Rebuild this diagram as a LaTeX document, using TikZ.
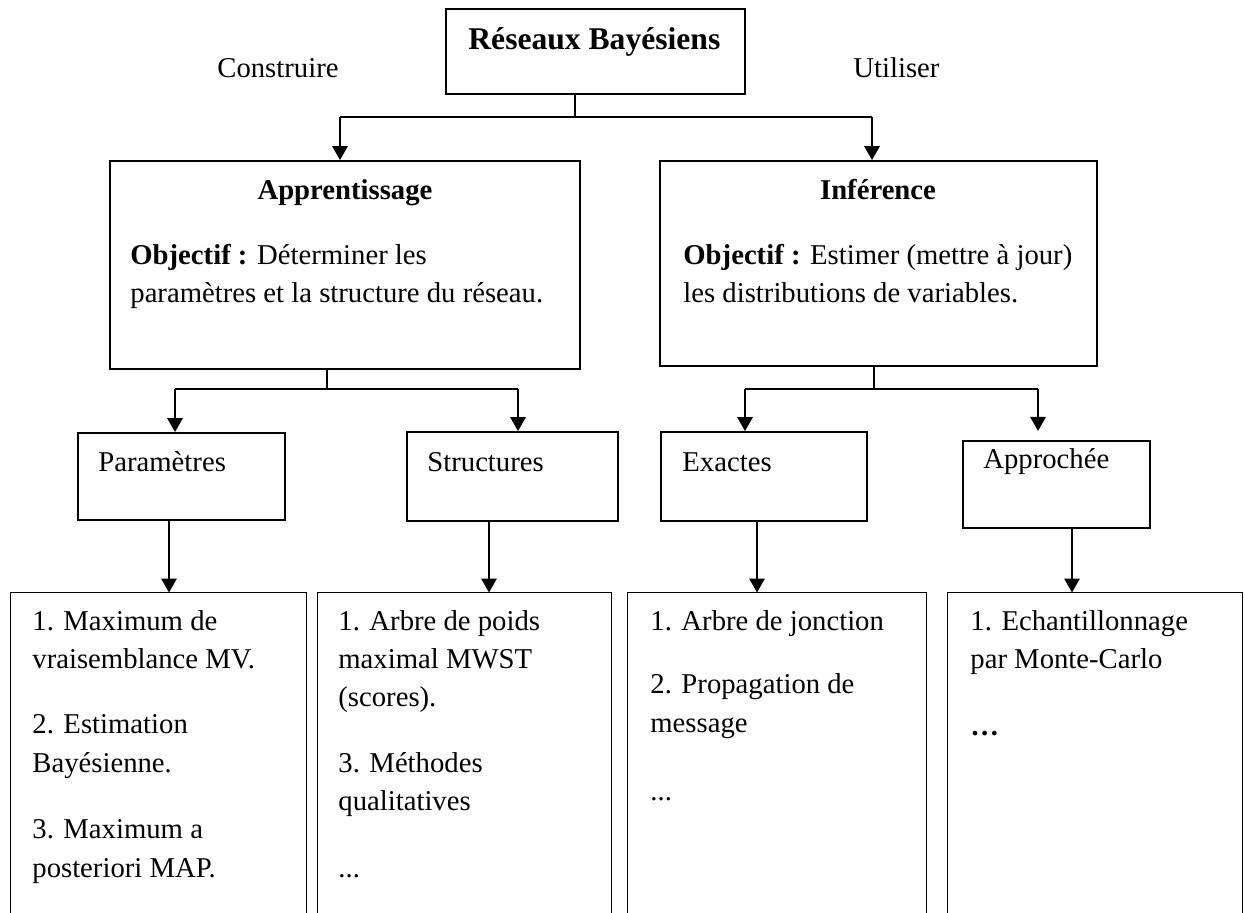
\documentclass[tikz,border=0pt]{standalone}
\usepackage{fontspec}
\setmainfont{Liberation Serif}
\usetikzlibrary{arrows.meta,fit}
\begin{document}
\begin{tikzpicture}[x=0.5pt,y=-0.5pt,
  box/.style={draw,line width=0.85pt,inner sep=0pt},
  area/.style={inner sep=0pt},
  rim/.style={line width=0.85pt},
  link/.style={line width=0.7pt},
  arr/.style={line width=1.4pt,-{Triangle[width=7.5pt,length=7pt]}},
  txt/.style={anchor=base west,inner sep=0pt,font=\fontsize{14.35pt}{19pt}\selectfont},
  head/.style={anchor=base,inner sep=0pt,font=\fontsize{14.35pt}{19pt}\selectfont\bfseries},
]
\useasboundingbox (0,0) rectangle (1245,913);

% ---- boxes ----
\node[box,fit={(446,9) (745,94)}] (top) {};
\node[box,fit={(110,161) (580,369)}] (app) {};
\node[box,fit={(660,161) (1097,366)}] (inf) {};
\node[box,fit={(78,433) (285,520)}] (par) {};
\node[box,fit={(407,432) (618,521)}] (str) {};
\node[box,fit={(661,432) (867,521)}] (exa) {};
\node[box,fit={(963,441) (1150,528)}] (apr) {};

% bottom lists: open at the foot
\node[area,fit={(11,593) (306,913)}] (b1) {};
\node[area,fit={(318,593) (611,913)}] (b2) {};
\node[area,fit={(628,593) (926,913)}] (b3) {};
\node[area,fit={(948,593) (1242,913)}] (b4) {};
\foreach \b in {b1,b2,b3,b4}
  \draw[rim] (\b.south west) |- (\b.north east) -- (\b.south east);

% ---- texts ----
\node[head,font=\fontsize{15.8pt}{19pt}\selectfont\bfseries,anchor=base west] (ttl) at (468,50) {Réseaux Bayésiens};
\node[txt] (lc) at (217,78) {Construire};
\node[txt] (lu) at (853,78) {Utiliser};

\node[head] (happ) at (345,200) {Apprentissage};
\node[txt] (app1) at (130,265) {\textbf{Objectif :} Déterminer les};
\node[txt] (app2) at (130,303) {paramètres et la structure du réseau.};

\node[head] (hinf) at (878,200) {Inférence};
\node[txt] (inf1) at (683,265) {\textbf{Objectif :} Estimer (mettre à jour)};
\node[txt] (inf2) at (683,303) {les distributions de variables.};

\node[txt] (tpar) at (98,472) {Paramètres};
\node[txt] (tstr) at (427,472) {Structures};
\node[txt] (texa) at (682,472) {Exactes};
\node[txt] (tapr) at (983,469) {Approchée};

\node[txt] (b1a) at (32,630) {1. Maximum de};
\node[txt] (b1b) at (32,668) {vraisemblance MV.};
\node[txt] (b1c) at (32,733) {2. Estimation};
\node[txt] (b1d) at (32,772) {Bayésienne.};
\node[txt] (b1e) at (32,838) {3. Maximum a};
\node[txt] (b1f) at (32,877) {posteriori MAP.};

\node[txt] (b2a) at (338,630) {1. Arbre de poids};
\node[txt] (b2b) at (338,668) {maximal MWST};
\node[txt] (b2c) at (338,706) {(scores).};
\node[txt] (b2d) at (338,772) {3. Méthodes};
\node[txt] (b2e) at (338,810) {qualitatives};
\node[txt] (b2f) at (338,877) {...};

\node[txt] (b3a) at (650,630) {1. Arbre de jonction};
\node[txt] (b3b) at (650,693) {2. Propagation de};
\node[txt] (b3c) at (650,732) {message};
\node[txt] (b3d) at (650,800) {...};

\node[txt] (b4a) at (970,630) {1. Echantillonnage};
\node[txt] (b4b) at (970,668) {par Monte-Carlo};
\node[txt] (b4c) at (970,735) {\textbf{…}};

% ---- connectors ----
% first level
\coordinate (j0) at (575,117);
\coordinate (ka) at (340,117);
\coordinate (kb) at (872,117);
\draw[link] (top.south -| j0) -- (j0);
\draw[link] (ka) -- (kb);
\draw[arr] (ka) -- (ka |- app.north);
\draw[arr] (kb) -- (kb |- inf.north);

% under Apprentissage
\coordinate (j1) at (327,389);
\coordinate (ka1) at (175,389);
\coordinate (ka2) at (518,389);
\draw[link] (app.south -| j1) -- (j1);
\draw[link] (ka1) -- (ka2);
\draw[arr] (ka1) -- (ka1 |- par.north);
\draw[arr] (ka2) -- (ka2 |- str.north);

% under Inférence
\coordinate (j2) at (874,389);
\coordinate (kc1) at (745,389);
\coordinate (kc2) at (1038,389);
\coordinate (kc2e) at (1038,431);
\draw[link] (inf.south -| j2) -- (j2);
\draw[link] (kc1) -- (kc2);
\draw[arr] (kc1) -- (kc1 |- exa.north);
\draw[arr] (kc2) -- (kc2e);

% down to the lists
\coordinate (xa) at (169,593);
\coordinate (xb) at (489,593);
\coordinate (xc) at (757,593);
\coordinate (xd) at (1072,593);
\draw[arr] (xa |- par.south) -- (xa |- b1.north);
\draw[arr] (xb |- str.south) -- (xb |- b2.north);
\draw[arr] (xc |- exa.south) -- (xc |- b3.north);
\draw[arr] (xd |- apr.south) -- (xd |- b4.north);
\end{tikzpicture}
\end{document}
